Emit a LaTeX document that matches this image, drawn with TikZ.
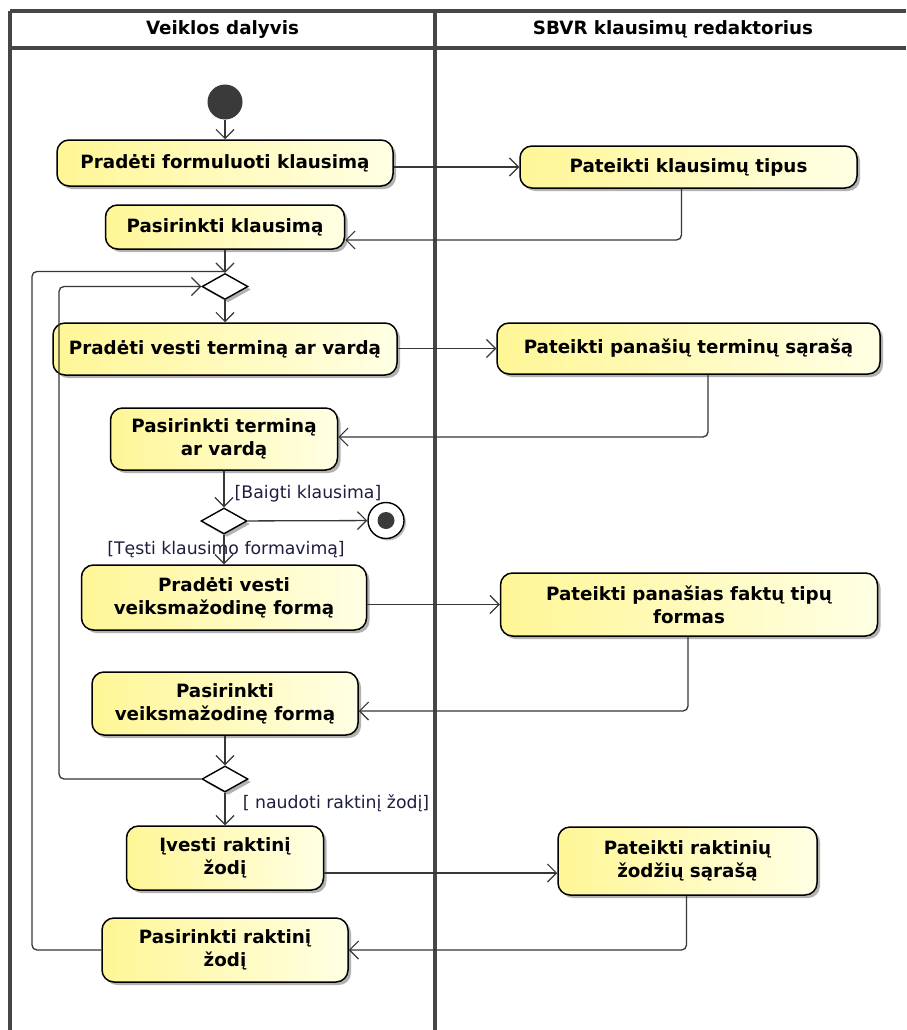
\documentclass[tikz,border=0pt]{standalone}
\usepackage{fontspec}
\setmainfont{DejaVu Sans}
\usetikzlibrary{arrows.meta,shadows,calc,shapes.geometric}

\definecolor{actL}{RGB}{255,246,150}
\definecolor{actR}{RGB}{255,255,228}
\definecolor{lineC}{RGB}{55,55,55}
\definecolor{laneC}{RGB}{70,70,70}
\definecolor{guardC}{RGB}{30,30,65}
\definecolor{startC}{RGB}{58,58,58}

\tikzset{
  action/.style={rectangle, rounded corners=12pt, draw=black, line width=1.5pt,
    left color=actL, right color=actR, align=center, inner sep=0pt,
    font=\bfseries\fontsize{18.3}{23}\selectfont,
    drop shadow={shadow xshift=3pt, shadow yshift=-3pt, fill=black, opacity=0.3}},
  choice/.style={diamond, draw=black, line width=1.4pt, fill=white, inner sep=0pt,
    minimum width=46pt, minimum height=26pt,
    drop shadow={shadow xshift=3pt, shadow yshift=-3pt, fill=black, opacity=0.3}},
  initial/.style={circle, fill=startC, minimum size=35pt, inner sep=0pt},
  final/.style={circle, draw=black, line width=1.4pt, fill=white, minimum size=36pt, inner sep=0pt,
    drop shadow={shadow xshift=2pt, shadow yshift=-2pt, fill=black, opacity=0.25}},
  guard/.style={text=guardC, font=\fontsize{17.3}{20}\selectfont, inner sep=0pt},
  lanetitle/.style={font=\bfseries\fontsize{18.3}{22}\selectfont, inner sep=0pt},
  lane/.style={draw=laneC, line width=3.2pt},
  wire/.style={draw=lineC, line width=1.3pt, rounded corners=5pt},
  flow/.style={wire, -{Straight Barb[length=9pt,width=18pt,line width=1.2pt]}},
}

\begin{document}
\begin{tikzpicture}[x=1pt, y=-1pt]
  \fill[white] (0,0) rectangle (906,1030);
  \useasboundingbox (0,0) rectangle (906,1030);

  % swimlanes
  \draw[lane] (10,11) -- (906,11);
  \draw[lane] (10,48) -- (906,48);
  \draw[lane] (10,11) -- (10,1030);
  \draw[lane] (435,11) -- (435,1030);
  \node[lanetitle] (laneA) at (222.5,29.5) {Veiklos dalyvis};
  \node[lanetitle] (laneB) at (673,29.5) {SBVR klausimų redaktorius};

  % left lane
  \node[initial] (start) at (225,102) {};
  \node[action, minimum width=336pt, minimum height=46pt] (n1) at (225,163) {Pradėti formuluoti klausimą};
  \node[action, minimum width=239pt, minimum height=44pt] (n2) at (225,227) {Pasirinkti klausimą};
  \node[choice] (m1) at (225,286.5) {};
  \node[action, minimum width=344pt, minimum height=52pt] (n3) at (225,349) {Pradėti vesti terminą ar vardą};
  \node[action, minimum width=227pt, minimum height=62pt] (n4) at (224,439) {Pasirinkti terminą\\ar vardą};
  \node[choice] (d1) at (224,521) {};
  \node[final] (fin) at (386,520.5) {};
  \fill[startC] (fin) circle (8.5pt);
  \node[action, minimum width=285pt, minimum height=65pt] (n5) at (224,597.5) {Pradėti vesti\\veiksmažodinę formą};
  \node[action, minimum width=266pt, minimum height=63pt] (n6) at (225,703.5) {Pasirinkti\\veiksmažodinę formą};
  \node[choice] (m2) at (225,779) {};
  \node[action, minimum width=197pt, minimum height=64pt] (n7) at (225,858) {Įvesti raktinį\\žodį};
  \node[action, minimum width=246pt, minimum height=64pt] (n8) at (225,950) {Pasirinkti raktinį\\žodį};

  % right lane
  \node[action, minimum width=337pt, minimum height=42pt] (r1) at (688.5,167) {Pateikti klausimų tipus};
  \node[action, minimum width=383pt, minimum height=51pt] (r2) at (688.5,348.5) {Pateikti panašių terminų sąrašą};
  \node[action, minimum width=377pt, minimum height=63pt] (r3) at (689,604.5) {Pateikti panašias faktų tipų\\formas};
  \node[action, minimum width=259pt, minimum height=68pt] (r4) at (687.5,861) {Pateikti raktinių\\žodžių sąrašą};

  % loop helpers
  \coordinate (innerL) at (59,0);
  \coordinate (outerL) at (32,271.5);
  \coordinate (join1) at (225,271.5);

  % guards
  \node[guard] (gEnd) at (308,494) {[Baigti klausima]};
  \node[guard] (gGo) at (226,550) {[Tęsti klausimo formavimą]};
  \node[guard] (gKey) at (336,803) {[ naudoti raktinį žodį]};

  % flows
  \draw[flow] (start) -- (n1);
  \draw[flow] (n1.east |- r1.west) -- (r1.west);
  \draw[flow] ([xshift=-7pt]r1.south) |- ([yshift=-13pt]n2.east);
  \draw[flow] (n2) -- (m1);
  \draw[flow] (m1) -- (n3);
  \draw[flow] (n3.east |- r2.west) -- (r2.west);
  \draw[flow] ([xshift=19.5pt]r2.south) |- ([yshift=2pt]n4.east);
  \draw[flow] (n4) -- (d1);
  \draw[flow] (d1) -- (fin);
  \draw[flow] (d1) -- (n5);
  \draw[flow] (n5.east |- r3.west) -- (r3.west);
  \draw[flow] ([xshift=-1pt]r3.south) |- ([yshift=-7.5pt]n6.east);
  \draw[flow] (n6) -- (m2);
  \draw[flow] (m2.west) -| (innerL |- m1.west) -- (m1.west);
  \draw[flow] (m2) -- (n7);
  \draw[flow] ([yshift=-15pt]n7.east) -- ([yshift=-12pt]r4.west);
  \draw[flow] ([xshift=-1pt]r4.south) |- (n8.east);
  \draw[wire] (n8.west) -| (outerL) -- (join1);
\end{tikzpicture}
\end{document}
